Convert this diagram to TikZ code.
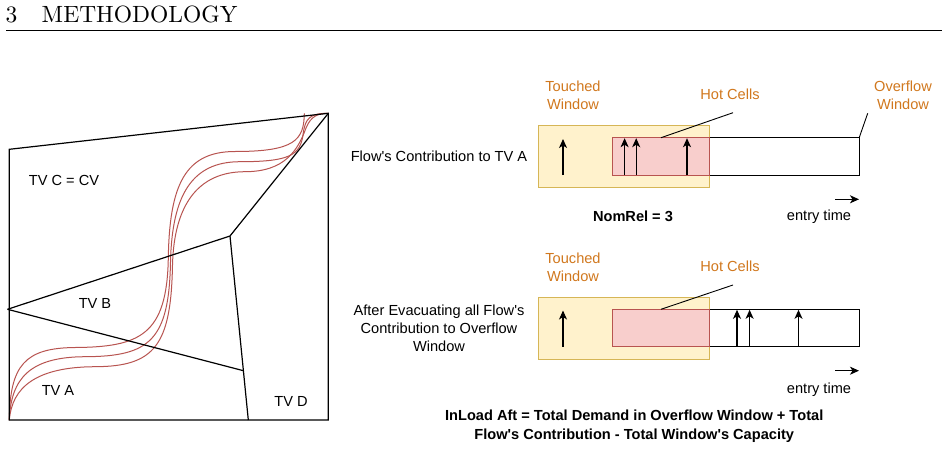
\documentclass[tikz,border=0pt]{standalone}
\usepackage{fontspec}
\setsansfont{Liberation Sans}[Ligatures=TeXOff]
\newfontfamily\headfont{lmroman10-regular.otf}
\usetikzlibrary{arrows.meta,calc}
\definecolor{orng}{RGB}{209,120,30}
\definecolor{yfill}{HTML}{FFF2CC}
\definecolor{ystroke}{HTML}{D6B656}
\definecolor{pfill}{HTML}{F8CECC}
\definecolor{pstroke}{HTML}{B85450}
\definecolor{crv}{HTML}{B85450}
\begin{document}
\begin{tikzpicture}[x=1pt,y=-1pt,
  lbl/.style={font=\sffamily\fontsize{14.6}{18}\selectfont, align=center, inner sep=0pt},
  olbl/.style={lbl, text=orng},
  blbl/.style={font=\sffamily\bfseries\fontsize{14.6}{19.3}\selectfont, align=center, inner sep=0pt},
  dline/.style={line width=1.2pt, black, line join=miter},
  crvline/.style={line width=1pt, crv},
  ybox/.style={draw=ystroke, fill=yfill, line width=1pt, anchor=north west, inner sep=0pt, outer sep=0pt},
  pbox/.style={draw=pstroke, fill=pfill, line width=1pt, anchor=north west, inner sep=0pt, outer sep=0pt},
  wbox/.style={draw=black, fill=white, line width=1pt, anchor=north west, inner sep=0pt, outer sep=0pt},
  uarr/.style={line width=1.1pt, -{Stealth[length=9pt,width=8pt,inset=2.5pt]}},
  callout/.style={line width=0.9pt, black}
]
\useasboundingbox (0,0) rectangle (948,450);
\fill[white] (0,0) rectangle (948,450);

% heading
\node[anchor=base west, inner sep=0pt] (secnum) at (5.5,22.7) {\headfont\fontsize{23.5}{28}\selectfont 3};
\node[anchor=base west, inner sep=0pt] (sectitle) at (41.5,22.7) {\headfont\fontsize{23.5}{28}\selectfont METHODOLOGY};
\coordinate (rulel) at (6,30);
\coordinate (ruler) at (942,30);
\draw[line width=0.9pt] (rulel) -- (ruler);

% left diagram
\coordinate (tl) at (9.3,149.3);
\coordinate (tr) at (328.3,113.3);
\coordinate (br) at (328.3,420);
\coordinate (bl) at (9.3,420);
\coordinate (lv) at (7.5,309.3);
\coordinate (cv) at (230,236);
\coordinate (bd) at (248.3,420);
\coordinate (ae) at ($(cv)!0.732!(bd)$);

\draw[crvline] (bl) .. controls (10,365) and (25,348) .. (75,347.5)
  .. controls (140,347) and (167,335) .. (168.3,258)
  .. controls (169.5,185) and (185,151.5) .. (235,151.5)
  .. controls (295,151.5) and (304,140) .. (304.3,113.3);
\draw[crvline] (bl) .. controls (11,378) and (30,357) .. (85,356.7)
  .. controls (150,356.5) and (169,340) .. (170.5,262)
  .. controls (172,195) and (192,161.7) .. (240,161.7)
  .. controls (290,161.7) and (300,155) .. (303,135)
  .. controls (305,118) and (310,113.3) .. (tr);
\draw[crvline] (bl) .. controls (12,388) and (35,367) .. (95,366.7)
  .. controls (155,366.5) and (171,345) .. (172.5,265)
  .. controls (174,205) and (198,171.7) .. (245,171.7)
  .. controls (285,171.7) and (298,150) .. (306,128)
  .. controls (311,116) and (318,113.3) .. (tr);

\draw[dline] (bl) -- (tl) -- (tr) -- (br) -- cycle;
\draw[dline] (lv) -- (cv) -- (tr);
\draw[dline] (cv) -- (bd);
\draw[dline] (lv) -- (ae);

\node[lbl] (tvc) at (64,180.7) {TV C = CV};
\node[lbl] (tvb) at (95,303) {TV B};
\node[lbl] (tva) at (58,390) {TV A};
\node[lbl] (tvd) at (291,401.7) {TV D};

% ---------- row 1 ----------
\node[ybox, minimum width=171.2pt, minimum height=62.3pt] (tw1) at (538,125) {};
\node[wbox, minimum width=150pt, minimum height=37.3pt] (ow1) at (709.2,137.7) {};
\node[pbox, minimum width=96.9pt, minimum height=37.3pt] (hc1) at (612.3,137.7) {};

\coordinate (a1b) at (563,175); \coordinate (a1t) at (563,139);
\coordinate (a2b) at (624.6,175); \coordinate (a2t) at (624.6,138.2);
\coordinate (a3b) at (636.2,175); \coordinate (a3t) at (636.2,138.2);
\coordinate (a4b) at (687,175); \coordinate (a4t) at (687,138.2);
\draw[uarr] (a1b) -- (a1t);
\draw[uarr] (a2b) -- (a2t);
\draw[uarr] (a3b) -- (a3t);
\draw[uarr] (a4b) -- (a4t);

\node[olbl] (twl1) at (573,95) {Touched\\Window};
\node[olbl] (hcl1) at (730,94) {Hot Cells};
\coordinate (hcs1) at (733,112.7);
\coordinate (hce1) at (661,137.7);
\draw[callout] (hcs1) -- (hce1);
\node[olbl] (owl) at (903,95) {Overflow\\Window};
\coordinate (ows) at (867.7,113.3);
\draw[callout] (ows) -- (ow1.north east);

\node[lbl] (fc1) at (439,156.7) {Flow's Contribution to TV A};
\node[blbl] (nom) at (633,216.7) {NomRel = 3};
\coordinate (et1s) at (835,199.3); \coordinate (et1e) at (859,199.3);
\draw[uarr] (et1s) -- (et1e);
\node[lbl] (etl1) at (819,216.7) {entry time};

% ---------- row 2 ----------
\node[ybox, minimum width=171.2pt, minimum height=61.7pt] (tw2) at (538,297.3) {};
\node[wbox, minimum width=150pt, minimum height=37.4pt] (ow2) at (709.2,309.3) {};
\node[pbox, minimum width=96.9pt, minimum height=37.4pt] (hc2) at (612.3,309.3) {};

\coordinate (b1b) at (563,346.7); \coordinate (b1t) at (563,310.5);
\coordinate (b2b) at (737,346.7); \coordinate (b2t) at (737,309.8);
\coordinate (b3b) at (749.6,346.7); \coordinate (b3t) at (749.6,309.8);
\coordinate (b4b) at (798.5,346.7); \coordinate (b4t) at (798.5,309.8);
\draw[uarr] (b1b) -- (b1t);
\draw[uarr] (b2b) -- (b2t);
\draw[uarr] (b3b) -- (b3t);
\draw[uarr] (b4b) -- (b4t);

\node[olbl] (twl2) at (573,267) {Touched\\Window};
\node[olbl] (hcl2) at (730,266) {Hot Cells};
\coordinate (hcs2) at (733,285);
\coordinate (hce2) at (661,309.3);
\draw[callout] (hcs2) -- (hce2);

\node[lbl, font=\sffamily\fontsize{14.6}{17.7}\selectfont] (fc2) at (439,328.3) {After Evacuating all Flow's\\Contribution to Overflow\\Window};
\coordinate (et2s) at (835,370.7); \coordinate (et2e) at (859,370.7);
\draw[uarr] (et2s) -- (et2e);
\node[lbl] (etl2) at (819,389.3) {entry time};

\node[blbl] (inload) at (634.2,426.3) {InLoad Aft = Total Demand in Overflow Window + Total\\Flow's Contribution - Total Window's Capacity};
\end{tikzpicture}
\end{document}
